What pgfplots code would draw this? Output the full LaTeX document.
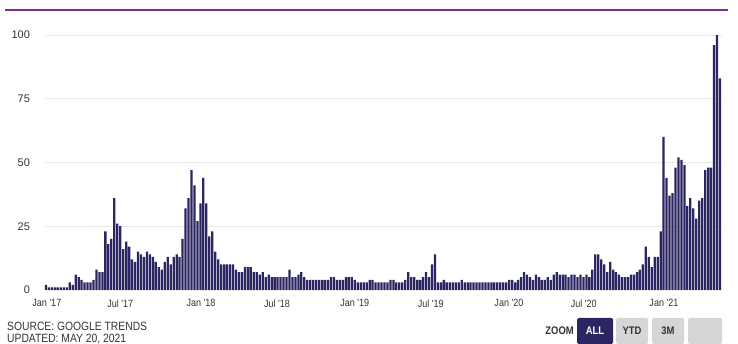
\documentclass[border=0pt]{standalone}
\usepackage{pgfplots}
\pgfplotsset{compat=1.18}
\usepackage{fontspec}
\setmainfont{Liberation Sans}
\newfontfamily\condensed[FakeStretch=0.86]{Liberation Sans}
\definecolor{barcol}{HTML}{2B2562}
\definecolor{topline}{HTML}{7E2D8F}
\definecolor{txt}{HTML}{333333}
\definecolor{gridc}{HTML}{E8E8E8}
\definecolor{btngray}{HTML}{D6D6D6}
\pgfplotstableread{
i v
0 2
1 1
2 1
3 1
4 1
5 1
6 1
7 1
8 3
9 2
10 6
11 5
12 4
13 3
14 3
15 3
16 4
17 8
18 7
19 7
20 23
21 18
22 20
23 36
24 26
25 25
26 16
27 19
28 17
29 12
30 11
31 15
32 14
33 13
34 15
35 14
36 13
37 11
38 9
39 8
40 11
41 13
42 10
43 13
44 14
45 13
46 20
47 32
48 36
49 47
50 41
51 27
52 34
53 44
54 34
55 21
56 23
57 15
58 12
59 10
60 10
61 10
62 10
63 10
64 8
65 7
66 7
67 9
68 9
69 9
70 7
71 7
72 6
73 7
74 5
75 6
76 5
77 5
78 5
79 5
80 5
81 5
82 8
83 5
84 5
85 6
86 7
87 5
88 4
89 4
90 4
91 4
92 4
93 4
94 4
95 4
96 5
97 5
98 4
99 4
100 4
101 5
102 5
103 5
104 4
105 3
106 3
107 3
108 3
109 4
110 4
111 3
112 3
113 3
114 3
115 3
116 4
117 4
118 3
119 3
120 3
121 4
122 7
123 5
124 5
125 4
126 4
127 5
128 7
129 5
130 10
131 14
132 3
133 3
134 4
135 3
136 3
137 3
138 3
139 3
140 4
141 3
142 3
143 3
144 3
145 3
146 3
147 3
148 3
149 3
150 3
151 3
152 3
153 3
154 3
155 3
156 4
157 4
158 3
159 4
160 5
161 7
162 6
163 5
164 4
165 6
166 5
167 4
168 4
169 5
170 4
171 6
172 7
173 6
174 6
175 6
176 5
177 6
178 6
179 5
180 6
181 5
182 6
183 5
184 8
185 14
186 14
187 12
188 10
189 7
190 11
191 8
192 7
193 6
194 5
195 5
196 5
197 6
198 6
199 7
200 8
201 10
202 17
203 13
204 9
205 13
206 13
207 23
208 60
209 44
210 37
211 38
212 48
213 52
214 51
215 49
216 33
217 36
218 32
219 28
220 35
221 36
222 47
223 48
224 48
225 96
226 100
227 83
}\trends
\begin{document}
\begin{tikzpicture}[x=1pt,y=1pt]
\path[use as bounding box] (0,0) rectangle (738,344);
% top purple rule
\draw[topline, line width=1.3pt] (5,334) -- (728,334);
\begin{axis}[
  at={(44.5pt,54pt)}, anchor=south west,
  scale only axis, width=677pt, height=255pt,
  xmin=-0.5, xmax=227.5, ymin=0, ymax=100,
  axis line style={draw=none},
  major tick length=0pt,
  ymajorgrids, grid style={gridc, line width=0.6pt},
  ytick={0,25,50,75,100},
  xtick={0.3,25,52.2,77.8,104,129.6,155.9,181.1,208.1},
  xticklabels={Jan '17,Jul '17,Jan '18,Jul '18,Jan '19,Jul '19,Jan '20,Jul '20,Jan '21},
  xticklabel style={font=\condensed\fontsize{10.5}{11}\selectfont, text=txt, yshift=-6pt},
  yticklabel style={font=\fontsize{11}{12}\selectfont, text=txt, anchor=east, xshift=-11pt},
  /pgf/number format/assume math mode=true,
  clip=false,
]
\addplot[ybar, bar width=0.76, fill=barcol, draw=none] table[x=i, y=v] {\trends};
\end{axis}
% footer
\node[anchor=base west, inner sep=0, text=txt, font=\condensed\fontsize{12}{13}\selectfont] at (7,13.5) {SOURCE: GOOGLE TRENDS};
\node[anchor=base west, inner sep=0, text=txt, font=\condensed\fontsize{12}{13}\selectfont] at (7,1) {UPDATED: MAY 20, 2021};
% zoom buttons
\node[anchor=base east, inner sep=0, text=txt, font=\condensed\bfseries\fontsize{11}{12}\selectfont] at (574,9) {ZOOM};
\fill[barcol, rounded corners=1.5pt] (577,0) rectangle (613,26);
\node[anchor=base, inner sep=0, text=white, font=\condensed\bfseries\fontsize{11}{12}\selectfont] at (595,9) {ALL};
\fill[btngray, rounded corners=1.5pt] (616,0) rectangle (648,26);
\node[anchor=base, inner sep=0, text=txt, font=\condensed\bfseries\fontsize{11}{12}\selectfont] at (632,9) {YTD};
\fill[btngray, rounded corners=1.5pt] (652,0) rectangle (684,26);
\node[anchor=base, inner sep=0, text=txt, font=\condensed\bfseries\fontsize{11}{12}\selectfont] at (668,9) {3M};
\fill[btngray, rounded corners=1.5pt] (688,0) rectangle (722,26);
\end{tikzpicture}
\end{document}
